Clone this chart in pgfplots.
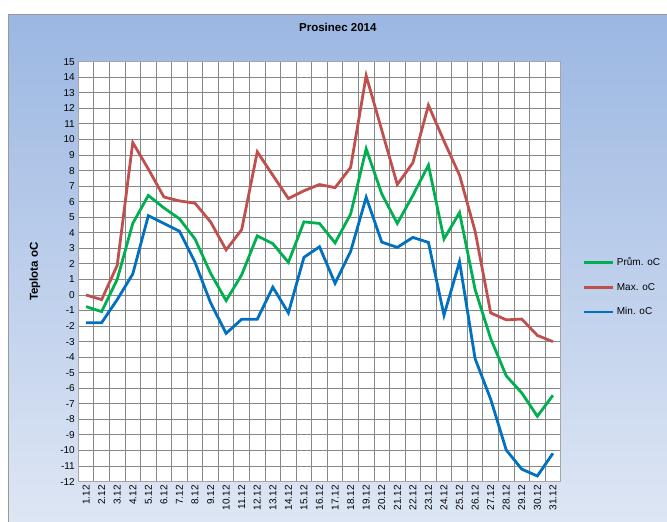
\documentclass[border=0pt]{standalone}
\usepackage{pgfplots}
\pgfplotsset{compat=1.18}
\usepackage{fontspec}
\setmainfont{Liberation Sans}
\definecolor{cgreen}{RGB}{0,176,80}
\definecolor{cred}{RGB}{192,80,77}
\definecolor{cblue}{RGB}{0,112,192}
\definecolor{bgtop}{RGB}{155,183,226}
\definecolor{bgbot}{RGB}{222,230,244}
\definecolor{gridc}{RGB}{135,135,135}
\begin{document}
\begin{tikzpicture}[x=1pt,y=1pt]
\fill[white] (0,0) rectangle (667,522);
\shade[top color=bgtop, bottom color=bgbot] (8.5,0) rectangle (667,507.5);
\draw[gray!80, line width=1pt] (8.5,-1) -- (8.5,507.5) -- (668,507.5);
\begin{axis}[
  at={(78.3pt,40.4pt)}, anchor=south west,
  scale only axis, width=482.4pt, height=419.9pt,
  xmin=0.5, xmax=31.5, ymin=-12, ymax=15,
  xtick={1,...,31},
  xticklabels={1.12,2.12,3.12,4.12,5.12,6.12,7.12,8.12,9.12,10.12,11.12,12.12,13.12,14.12,15.12,16.12,17.12,18.12,19.12,20.12,21.12,22.12,23.12,24.12,25.12,26.12,27.12,28.12,29.12,30.12,31.12},
  xticklabel style={rotate=90, anchor=east, font=\fontsize{10}{10}\selectfont},
  ytick={-12,...,15},
  yticklabel style={font=\fontsize{10}{10}\selectfont},
  /pgf/number format/assume math mode=true,
  major tick length=0pt, minor tick length=0pt,
  minor xtick={1.5,2.5,...,30.5},
  xminorgrids, ymajorgrids,
  grid style={draw=gridc, line width=0.9pt},
  minor grid style={draw=gridc, line width=0.9pt},
  axis line style={draw=gray!70, line width=0.9pt},
  axis background/.style={fill=white},
  ylabel={Teplota oC},
  ylabel style={at={(axis description cs:-0.0898,0.5)}, anchor=center, font=\bfseries\fontsize{11.5}{12}\selectfont},
  title={Prosinec 2014},
  title style={at={(axis description cs:0.538,1)}, anchor=center, yshift=28.7pt, font=\bfseries\fontsize{11.5}{12}\selectfont},
  legend style={at={(axis description cs:1.046,0.4634)}, anchor=west, draw=none, fill=none, inner sep=0pt, row sep=12pt, font=\fontsize{10}{10}\selectfont},
  legend cell align=left,
  legend image code/.code={\draw[#1] (0pt,0pt) -- (29pt,0pt);},
]
\addplot[cgreen, line width=2.8pt] coordinates {
(1,-0.75) (2,-1.07) (3,1.0) (4,4.6) (5,6.4) (6,5.6) (7,4.9) (8,3.6) (9,1.4) (10,-0.36)
(11,1.3) (12,3.8) (13,3.3) (14,2.1) (15,4.7) (16,4.6) (17,3.35) (18,5.2) (19,9.4) (20,6.5)
(21,4.6) (22,6.4) (23,8.35) (24,3.6) (25,5.3) (26,0.35) (27,-2.8) (28,-5.2) (29,-6.3) (30,-7.8) (31,-6.45)};
\addlegendentry{Prům. oC}
\addplot[cred, line width=2.8pt] coordinates {
(1,0) (2,-0.3) (3,1.9) (4,9.8) (5,8.1) (6,6.3) (7,6.05) (8,5.9) (9,4.7) (10,2.9)
(11,4.2) (12,9.2) (13,7.7) (14,6.2) (15,6.7) (16,7.1) (17,6.9) (18,8.2) (19,14.1) (20,10.6)
(21,7.1) (22,8.5) (23,12.2) (24,9.9) (25,7.7) (26,4.1) (27,-1.15) (28,-1.6) (29,-1.55) (30,-2.6) (31,-3.0)};
\addlegendentry{Max. oC}
\addplot[cblue, line width=2.8pt] coordinates {
(1,-1.78) (2,-1.78) (3,-0.3) (4,1.35) (5,5.1) (6,4.6) (7,4.1) (8,2.1) (9,-0.5) (10,-2.47)
(11,-1.56) (12,-1.56) (13,0.5) (14,-1.15) (15,2.42) (16,3.1) (17,0.75) (18,2.8) (19,6.28) (20,3.4)
(21,3.06) (22,3.7) (23,3.38) (24,-1.3) (25,2.14) (26,-4.1) (27,-6.7) (28,-9.97) (29,-11.2) (30,-11.64) (31,-10.18)};
\addlegendentry{Min. oC}
\end{axis}
\pgfresetboundingbox
\path[use as bounding box] (0,0) rectangle (667,522);
\end{tikzpicture}
\end{document}
